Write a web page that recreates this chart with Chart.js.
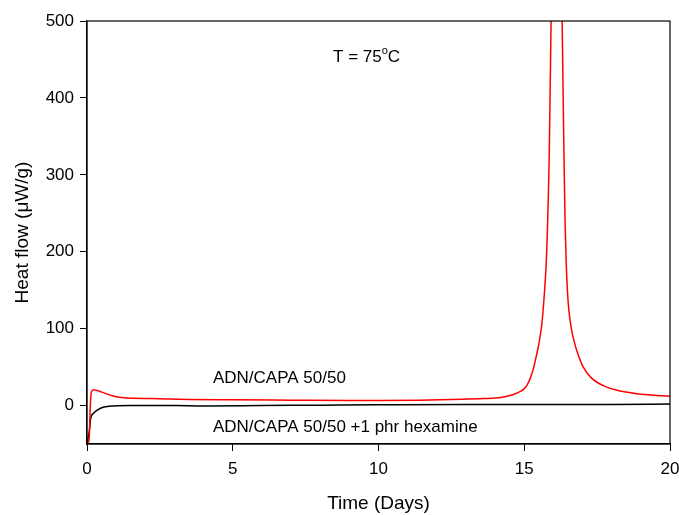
<!DOCTYPE html>
<html>
<head>
<meta charset="utf-8">
<script src="https://cdn.jsdelivr.net/npm/chart.js@4.4.1/dist/chart.umd.min.js"></script>
<style>
  body { margin: 0; background: #fff; }
  canvas { display: block; }
</style>
</head>
<body>
<canvas id="graph" width="679" height="515"></canvas>
<script>
// ADN/CAPA 50/50 (red)
const redDays = [0, 0.07, 0.12, 0.15, 0.24, 0.4, 0.58, 0.93, 1.27, 2.2, 3.5, 5, 7, 9, 10, 11.4, 12.5, 13.6, 14.2, 14.6, 14.9, 15.0, 15.1, 15.2, 15.3, 15.4, 15.5, 15.6, 15.67, 15.77, 15.86, 15.92, 16.11, 16.3, 16.36, 16.4, 16.44, 16.48, 16.53, 16.62, 16.7, 16.79, 17.01, 17.3, 17.77, 18.34, 19.14, 20];
const redFlow = [-50, -45, 5, 18, 20.5, 19, 16.5, 12, 10, 9, 8, 7.5, 7, 6.5, 6.5, 7, 8, 9, 10.5, 14, 19, 22, 27, 35, 46, 62, 80, 105, 135, 200, 332, 500, 1030, 500, 332, 240, 185, 150, 124, 99, 85, 73, 51, 36, 25, 18.6, 14.3, 12];

// ADN/CAPA 50/50 +1 phr hexamine (black)
const blackDays = [0, 0.05, 0.09, 0.12, 0.24, 0.35, 0.58, 0.93, 1.5, 3, 4, 6, 8, 10, 13, 16, 18, 20];
const blackFlow = [-50, -40, -30, -18, -9.5, -6, -2, -0.5, 0, 0, -0.5, 0, 0.5, 1, 1.5, 1.5, 1.5, 2];

const xTicks = [0, 5, 10, 15, 20];
const yTicks = [0, 100, 200, 300, 400, 500];

const notes = [
    { text: 'ADN/CAPA 50/50', x: 4.32, y: 36 },
    { text: 'ADN/CAPA 50/50 +1 phr hexamine', x: 4.32, y: -28.6 }
];

const toPoints = (xs, ys) => xs.map((x, i) => ({ x: x, y: ys[i] }));
const FONT = '"Liberation Sans", Arial, sans-serif';

const frame = {
    id: 'frame',
    afterDraw(chart) {
        const { ctx, chartArea: a, scales } = chart;
        ctx.save();
        ctx.strokeStyle = '#000';
        ctx.lineWidth = 1.2;
        ctx.strokeRect(a.left, a.top, a.right - a.left, a.bottom - a.top);

        ctx.fillStyle = '#000';
        ctx.textBaseline = 'middle';
        ctx.textAlign = 'left';
        ctx.font = '17px ' + FONT;
        notes.forEach(n => {
            ctx.fillText(n.text, scales.x.getPixelForValue(n.x), scales.y.getPixelForValue(n.y));
        });

        // T = 75 oC with superscript o
        let px = scales.x.getPixelForValue(8.44);
        const py = scales.y.getPixelForValue(453);
        ctx.fillText('T = 75', px, py);
        px += ctx.measureText('T = 75').width;
        ctx.font = '11px ' + FONT;
        ctx.fillText('o', px, py - 6);
        px += ctx.measureText('o').width;
        ctx.font = '17px ' + FONT;
        ctx.fillText('C', px, py);
        ctx.restore();
    }
};

new Chart(document.getElementById('graph').getContext('2d'), {
    type: 'line',
    data: {
        datasets: [{
            label: 'ADN/CAPA 50/50',
            data: toPoints(redDays, redFlow),
            borderColor: '#ff0000',
            borderWidth: 1.5,
            pointRadius: 0,
            cubicInterpolationMode: 'monotone',
            fill: false
        },
        {
            label: 'ADN/CAPA 50/50 +1 phr hexamine',
            data: toPoints(blackDays, blackFlow),
            borderColor: '#000000',
            borderWidth: 1.5,
            pointRadius: 0,
            cubicInterpolationMode: 'monotone',
            fill: false
        }]
    },
    options: {
        responsive: false,
        devicePixelRatio: 1,
        animation: false,
        layout: { padding: { top: 21, right: 9, left: 0, bottom: 0 } },
        plugins: { legend: { display: false }, tooltip: { enabled: false } },
        scales: {
            x: {
                type: 'linear',
                min: 0,
                max: 20,
                afterFit: s => { s.height = 71; s.paddingLeft = 0; s.paddingRight = 0; },
                afterBuildTicks: s => { s.ticks = xTicks.map(v => ({ value: v })); },
                grid: { drawOnChartArea: false, drawTicks: true, tickLength: 7, color: '#000' },
                border: { color: '#000', width: 1.2 },
                ticks: { color: '#000', font: { family: FONT, size: 17 }, padding: 8, maxRotation: 0 },
                title: { display: true, text: 'Time (Days)', color: '#000', font: { family: FONT, size: 19 }, padding: { top: 0, bottom: 0 } }
            },
            y: {
                min: -50,
                max: 500,
                afterFit: s => { s.width = 87; s.paddingTop = 0; s.paddingBottom = 0; },
                afterBuildTicks: s => { s.ticks = yTicks.map(v => ({ value: v })); },
                grid: { drawOnChartArea: false, drawTicks: true, tickLength: 7, color: '#000' },
                border: { color: '#000', width: 1.2 },
                ticks: { color: '#000', font: { family: FONT, size: 17 }, padding: 6 },
                title: { display: true, text: 'Heat flow (μW/g)', color: '#000', font: { family: FONT, size: 19 }, padding: { top: 11, bottom: 0 } }
            }
        }
    },
    plugins: [frame]
});
</script>
</body>
</html>
